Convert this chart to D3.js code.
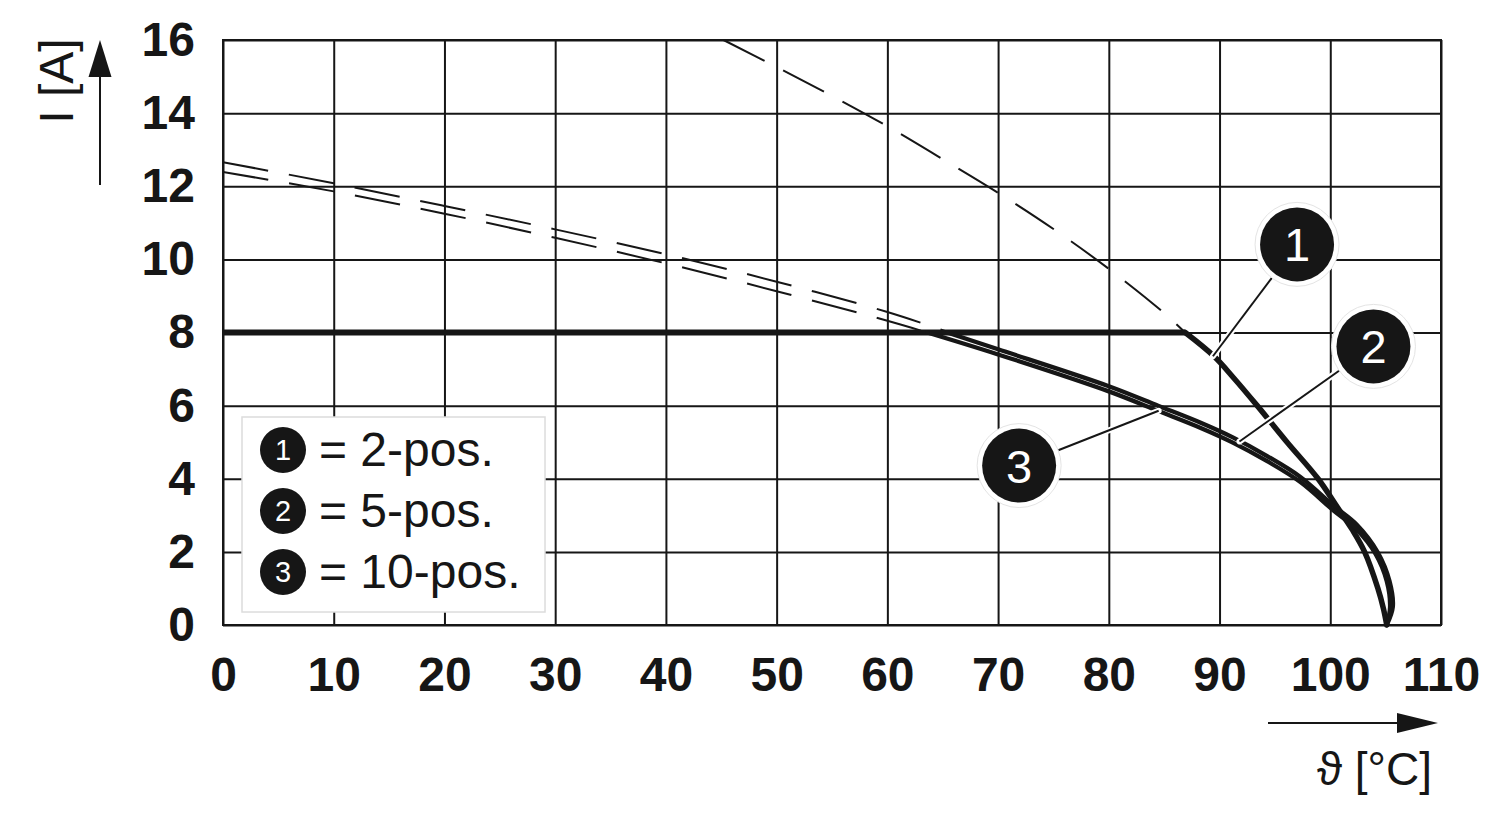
<!DOCTYPE html>
<html>
<head>
<meta charset="utf-8">
<script src="https://cdn.jsdelivr.net/npm/d3@7"></script>
<style>
  html, body { margin: 0; padding: 0; background: #fff; }
  svg { display: block; }
</style>
</head>
<body>
<svg id="chart" width="1500" height="820"></svg>
<script>
// ---------- data ----------
const xTicks = [0, 10, 20, 30, 40, 50, 60, 70, 80, 90, 100, 110];
const yTicks = [0, 2, 4, 6, 8, 10, 12, 14, 16];
const ratedCurrent = 8;
const xLabel = "ϑ [°C]";
const yLabel = "I [A]";

// curve 1 : 2-pos.
const curve1Dashed = [[45.2,16],[50,15.26],[55,14.47],[60,13.64],[65,12.74],[70,11.82],[75,10.83],[80,9.74],[85,8.53],[86.9,8]];
const curve1Solid  = [[86.9,8],[89.5,7.35],[91.3,6.75],[93.4,6.0],[96.1,5.0],[98.9,4.0],[100.6,3.24],[102.0,2.6],[103.1,2.0],[104.3,1.0],[104.8,0.45],[105.1,0]];
// curve 2 : 5-pos.
const curve2Dashed = [[0,12.66],[10,12.08],[20,11.46],[30,10.82],[40,10.14],[50,9.39],[60,8.56],[66.6,7.9]];
const curve2Solid  = [[65.4,8],[70,7.54],[80,6.53],[84.5,5.99],[88.3,5.53],[91.2,5.13],[94.3,4.62],[97.3,4.05],[100.3,3.26],[102.4,2.74],[104.3,1.98],[105.35,1.2],[105.65,0.5],[105.1,0]];
// curve 3 : 10-pos.
const curve3Dashed = [[0,12.39],[10,11.86],[20,11.25],[30,10.59],[40,9.89],[50,9.13],[60,8.32],[63.6,8]];
const curve3Solid  = [[63.6,8],[70,7.40],[80,6.39],[84.5,5.85],[88.3,5.39],[91.2,4.99],[94.3,4.48],[97.3,3.91],[100.3,3.13],[102.3,2.64],[104.1,1.94],[105.1,1.2],[105.4,0.5],[105.1,0]];

const legendItems = [["1","= 2-pos."],["2","= 5-pos."],["3","= 10-pos."]];
// callouts: label, circle centre (data), leader end (data)
const callouts = [
  ["1", [97.0, 10.41], [89.4, 7.35]],
  ["2", [103.9, 7.62], [91.8, 5.02]],
  ["3", [71.9, 4.36], [84.5, 5.86]]
];

// ---------- drawing ----------
const svg = d3.select("#chart");
const ink = "#161616";
const x = d3.scaleLinear().domain([0, 110]).range([223, 1441]);
const y = d3.scaleLinear().domain([0, 16]).range([625, 40]);
const W = x(110) - x(0), H = y(0) - y(16);

// grid + axes
const yAxis = d3.axisLeft(y).tickValues(yTicks).tickSize(-W).tickPadding(28).tickFormat(d3.format("d"));
const xAxis = d3.axisBottom(x).tickValues(xTicks).tickSize(-H).tickPadding(32).tickFormat(d3.format("d"));

const gy = svg.append("g").attr("transform", `translate(${x(0)},0)`).call(yAxis);
const gx = svg.append("g").attr("transform", `translate(0,${y(0)})`).call(xAxis);
[gx, gy].forEach(g => {
  g.select(".domain").remove();
  g.selectAll(".tick line").attr("stroke", ink).attr("stroke-width", 2);
  g.selectAll(".tick text")
    .attr("fill", ink)
    .attr("font-family", "'Liberation Sans', Arial, Helvetica, sans-serif")
    .attr("font-weight", "bold")
    .attr("font-size", 48);
});
svg.append("rect").attr("x", x(0)).attr("y", y(16)).attr("width", W).attr("height", H)
  .attr("fill", "none").attr("stroke", ink).attr("stroke-width", 2);

// clip for curves
svg.append("clipPath").attr("id", "plotclip").append("rect")
  .attr("x", x(0)).attr("y", y(16) - 1).attr("width", W).attr("height", H + 4);

const lineGen = d3.line().x(d => x(d[0])).y(d => y(d[1])).curve(d3.curveCatmullRom.alpha(0.5));
const curves = svg.append("g").attr("clip-path", "url(#plotclip)");

[curve1Dashed, curve2Dashed, curve3Dashed].forEach(c => {
  curves.append("path").attr("d", lineGen(c)).attr("fill", "none")
    .attr("stroke", ink).attr("stroke-width", 2).attr("stroke-dasharray", "46,21");
});

// rated current line (all three curves coincide)
curves.append("line")
  .attr("x1", x(0)).attr("x2", x(curve1Solid[0][0]))
  .attr("y1", y(ratedCurrent)).attr("y2", y(ratedCurrent))
  .attr("stroke", ink).attr("stroke-width", 6);

curves.append("path").attr("d", lineGen(curve1Solid)).attr("fill", "none")
  .attr("stroke", ink).attr("stroke-width", 5.5).attr("stroke-linecap", "round");
[curve2Solid, curve3Solid].forEach(c => {
  curves.append("path").attr("d", lineGen(c)).attr("fill", "none")
    .attr("stroke", ink).attr("stroke-width", 4.3).attr("stroke-linecap", "round");
});

// callouts
const cg = svg.append("g");
callouts.forEach(([lab, c, e]) => {
  const cx = x(c[0]), cy = y(c[1]), ex = x(e[0]), ey = y(e[1]);
  const dx = ex - cx, dy = ey - cy, L = Math.hypot(dx, dy);
  const sx = cx + dx / L * 40, sy = cy + dy / L * 40;
  cg.append("line").attr("x1", sx).attr("y1", sy).attr("x2", ex).attr("y2", ey)
    .attr("stroke", "#fff").attr("stroke-width", 6).attr("stroke-linecap", "round");
  cg.append("line").attr("x1", sx).attr("y1", sy).attr("x2", ex).attr("y2", ey)
    .attr("stroke", ink).attr("stroke-width", 2);
  cg.append("circle").attr("cx", cx).attr("cy", cy).attr("r", 42)
    .attr("fill", "#fff").attr("stroke", "#e4e4e4").attr("stroke-width", 1);
  cg.append("circle").attr("cx", cx).attr("cy", cy).attr("r", 37).attr("fill", ink);
  cg.append("text").attr("x", cx).attr("y", cy + 17).attr("text-anchor", "middle")
    .attr("fill", "#fff").attr("font-family", "'Liberation Sans', Arial, sans-serif")
    .attr("font-size", 47).text(lab);
});

// legend
const lg = svg.append("g");
lg.append("rect").attr("x", 242).attr("y", 417).attr("width", 303).attr("height", 195)
  .attr("fill", "#fff").attr("stroke", "#dcdcdc").attr("stroke-width", 1.5);
legendItems.forEach(([n, t], i) => {
  const cy = 450 + i * 61;
  lg.append("circle").attr("cx", 283).attr("cy", cy).attr("r", 23).attr("fill", ink);
  lg.append("text").attr("x", 283).attr("y", cy + 10).attr("text-anchor", "middle")
    .attr("fill", "#fff").attr("font-family", "'Liberation Sans', Arial, sans-serif")
    .attr("font-size", 29).text(n);
  lg.append("text").attr("x", 319).attr("y", cy + 16)
    .attr("fill", ink).attr("font-family", "'Liberation Sans', Arial, sans-serif")
    .attr("font-size", 48).text(t);
});

// axis titles with arrows
svg.append("line").attr("x1", 100).attr("x2", 100).attr("y1", 185).attr("y2", 70)
  .attr("stroke", ink).attr("stroke-width", 2);
svg.append("polygon").attr("points", "100,40 88.5,77 111.5,77").attr("fill", ink);
svg.append("text").attr("transform", "translate(73,81) rotate(-90)")
  .attr("text-anchor", "middle").attr("fill", ink)
  .attr("font-family", "'Liberation Sans', Arial, sans-serif").attr("font-size", 48).text(yLabel);

svg.append("line").attr("x1", 1268).attr("x2", 1405).attr("y1", 723).attr("y2", 723)
  .attr("stroke", ink).attr("stroke-width", 2);
svg.append("polygon").attr("points", "1438,723 1397,713 1397,733").attr("fill", ink);
svg.append("text").attr("x", 1432).attr("y", 785).attr("text-anchor", "end").attr("fill", ink)
  .attr("font-family", "'Liberation Sans', Arial, sans-serif").attr("font-size", 46).text(xLabel);
</script>
</body>
</html>
